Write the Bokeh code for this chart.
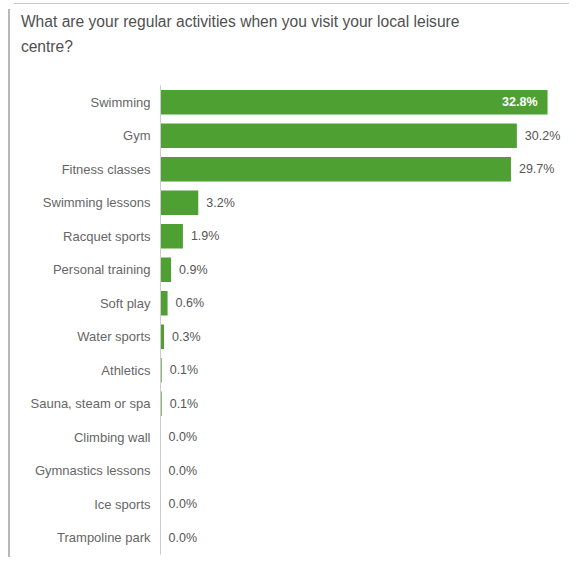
from bokeh.plotting import figure
from bokeh.models import Range1d, FixedTicker, ColumnDataSource, Title
from bokeh.core.properties import value
from bokeh.embed import file_html
from bokeh.resources import INLINE

title_lines = ["What are your regular activities when you visit your local leisure", "centre?"]
categories = ["Swimming", "Gym", "Fitness classes", "Swimming lessons", "Racquet sports",
              "Personal training", "Soft play", "Water sports", "Athletics",
              "Sauna, steam or spa", "Climbing wall", "Gymnastics lessons", "Ice sports",
              "Trampoline park"]
values = [32.8, 30.2, 29.7, 3.2, 1.9, 0.9, 0.6, 0.3, 0.1, 0.1, 0.0, 0.0, 0.0, 0.0]

n = len(categories)
pos = [i + 0.5 for i in range(n)]
labels = [f"{v:.1f}%" for v in values]
vmax = max(values)

inside = [v == vmax for v in values]
src_out = ColumnDataSource(dict(y=[p for p, f in zip(pos, inside) if not f],
                                x=[v for v, f in zip(values, inside) if not f],
                                t=[t for t, f in zip(labels, inside) if not f]))
src_in = ColumnDataSource(dict(y=[p for p, f in zip(pos, inside) if f],
                               x=[v for v, f in zip(values, inside) if f],
                               t=[t for t, f in zip(labels, inside) if f]))

W, H = 569, 567
FL = 160
p = figure(width=W, height=H, output_backend="svg", toolbar_location=None,
           x_range=Range1d(0, 34.66), y_range=Range1d(n, 0),
           min_border_left=FL, min_border_right=0, min_border_top=85, min_border_bottom=13)
p.styles = {"background": ("linear-gradient(#b8b8b8,#b8b8b8) 8px 9px / 2px 548px no-repeat, "
                           "linear-gradient(#c8c8c8,#c8c8c8) 14px 3px / 560px 1px no-repeat, "
                           "#ffffff")}
p.background_fill_color = None
p.border_fill_color = None
p.title.visible = False
p.outline_line_color = None
p.xgrid.visible = False
p.ygrid.visible = False
p.xaxis.visible = False

p.hbar(y=pos, left=0, right=values, height=0.73, fill_color="#4fa033", line_color=None)

p.text(x="x", y="y", text="t", source=src_out, x_offset=8, text_baseline="middle",
       text_align="left", text_font=value("Liberation Sans"), text_font_size="12.5px",
       text_color="#555555")
p.text(x="x", y="y", text="t", source=src_in, x_offset=-10, text_baseline="middle",
       text_align="right", text_font=value("Liberation Sans"), text_font_size="12.5px",
       text_color="#ffffff", text_font_style="bold")

ax = p.yaxis[0]
ax.ticker = FixedTicker(ticks=pos)
ax.major_label_overrides = {pp: c for pp, c in zip(pos, categories)}
ax.major_tick_line_color = None
ax.minor_tick_line_color = None
ax.major_tick_out = 0
ax.major_tick_in = 0
ax.axis_line_color = "#cccccc"
ax.major_label_standoff = 10
ax.major_label_text_font = "Liberation Sans"
ax.major_label_text_font_size = "13px"
ax.major_label_text_color = "#666666"

tstyle = dict(align="left", offset=-139.6, text_font="Liberation Sans",
              text_font_size="15.6px", text_color="#505050", text_font_style="normal")
spacer = Title(text=" ", standoff=11.5, **tstyle)
t2 = Title(text=title_lines[1], standoff=0, **tstyle)
t1 = Title(text=title_lines[0], standoff=10.5, **tstyle)
p.add_layout(spacer, "above")
p.add_layout(t2, "above")
p.add_layout(t1, "above")

open("out.html", "w").write(file_html(p, INLINE))
